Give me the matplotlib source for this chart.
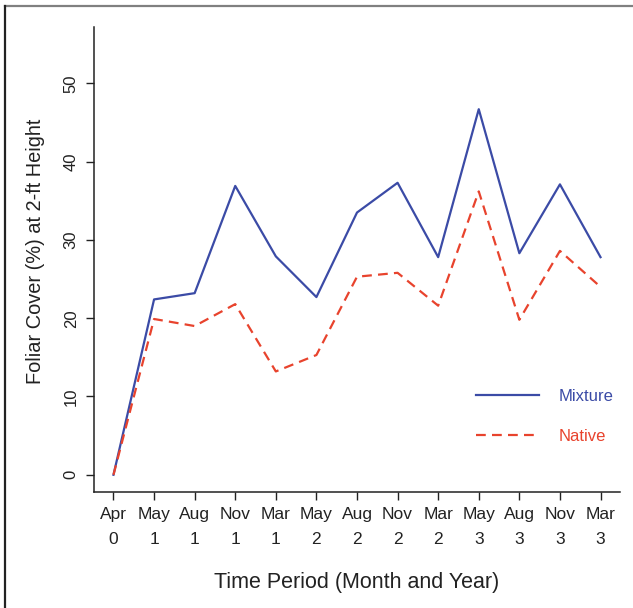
import matplotlib
matplotlib.use("Agg")
import matplotlib.pyplot as plt
from matplotlib.lines import Line2D

months = ["Apr", "May", "Aug", "Nov", "Mar", "May", "Aug", "Nov", "Mar", "May", "Aug", "Nov", "Mar"]
years = ["0", "1", "1", "1", "1", "2", "2", "2", "2", "3", "3", "3", "3"]
mixture = [0, 22.4, 23.2, 36.9, 27.9, 22.7, 33.5, 37.3, 27.8, 46.7, 28.3, 37.1, 27.8]
native = [0, 19.9, 19.0, 21.8, 13.2, 15.3, 25.3, 25.8, 21.6, 36.2, 19.8, 28.6, 24.0]

W, H = 633, 608
plt.rcParams['font.family'] = ['Liberation Sans', 'DejaVu Sans']
fig = plt.figure(figsize=(W / 100, H / 100), dpi=100)
ax = fig.add_axes([94 / W, 1 - 492 / H, (620 - 94) / W, (492 - 27) / H])

blue = "#3B4BA6"
red = "#E8432D"
x = list(range(len(months)))
ax.plot(x, mixture, color=blue, lw=1.6, label="Mixture")
ax.plot(x, native, color=red, lw=1.6, ls=(0, (4.4, 2.8)), label="Native")

ax.set_xlim(-0.48, 12.48)
ax.set_ylim(-2.2, 57.2)
ax.set_yticks([0, 10, 20, 30, 40, 50])
ax.set_xticks(x)
ax.set_xticklabels([f"{m}\n{y}" for m, y in zip(months, years)], linespacing=1.8, fontsize=12.5)
for lab in ax.get_yticklabels():
    lab.set_rotation(90)
    lab.set_va("center")
    lab.set_fontsize(12)
ax.tick_params(axis="both", direction="out", length=6, width=1.0, colors="#222222",
               labelcolor="#222222")
ax.tick_params(axis="x", pad=5)
ax.tick_params(axis="y", pad=5)
for s in ["top", "right"]:
    ax.spines[s].set_visible(False)
for s in ["left", "bottom"]:
    ax.spines[s].set_linewidth(1.1)
    ax.spines[s].set_color("#222222")

ax.set_xlabel("Time Period (Month and Year)", fontsize=15.5, color="#222222", labelpad=18)
ax.set_ylabel("Foliar Cover (%) at 2-ft Height", fontsize=14.4, color="#222222")
ax.yaxis.set_label_coords(-0.093, 0.518)

leg = ax.legend(loc="center", bbox_to_anchor=(0.857, 0.162), frameon=False, fontsize=12,
                handlelength=3.8, handletextpad=1.2, labelspacing=1.5, labelcolor="linecolor")

# outer frame
fig.add_artist(Line2D([4.5 / W, 1], [1 - 5.5 / H, 1 - 5.5 / H], color="#808080", lw=1.6,
                      transform=fig.transFigure))
fig.add_artist(Line2D([5 / W, 5 / W], [0, 1 - 5.5 / H], color="#222222", lw=1.6,
                      transform=fig.transFigure))

fig.savefig("out.png", dpi=100)
